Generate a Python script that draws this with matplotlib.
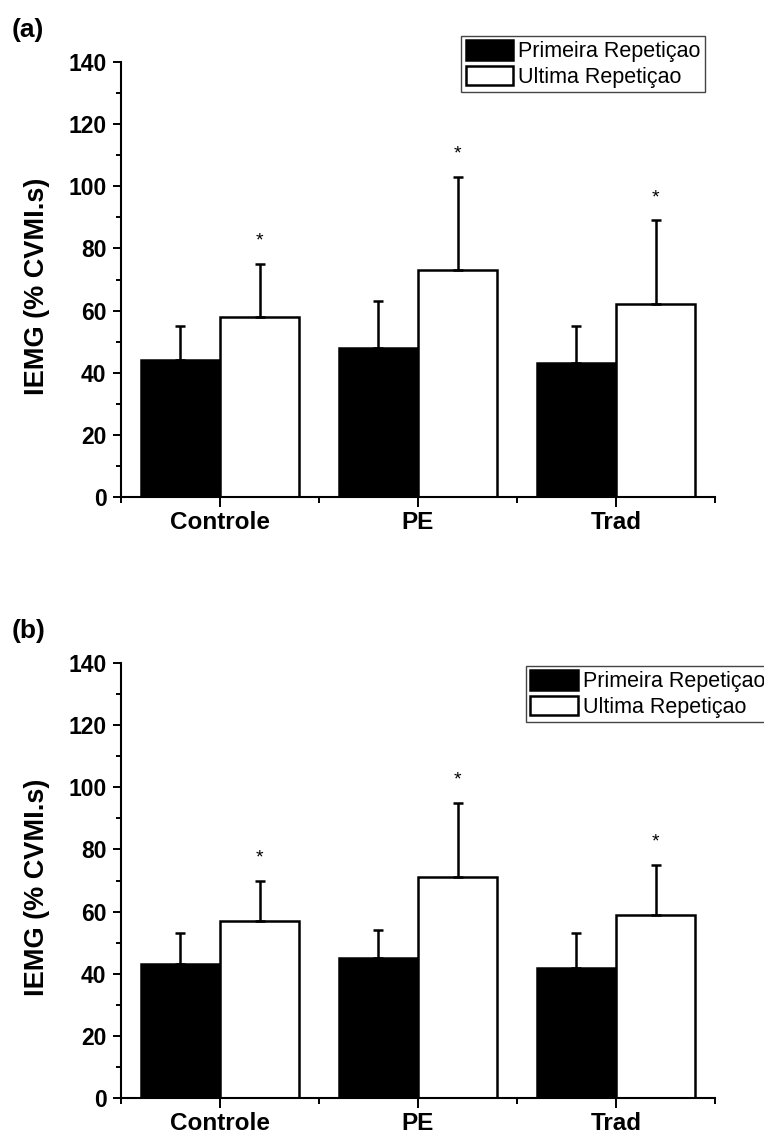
import numpy as np
import matplotlib
matplotlib.use('Agg')
import matplotlib.pyplot as plt
from matplotlib.ticker import MultipleLocator, FixedLocator

plt.rcParams['font.family'] = ['Liberation Sans', 'DejaVu Sans']

# data
groups = ['Controle', 'PE', 'Trad']
series_names = ['Primeira Repetiçao', 'Ultima Repetiçao']

# panel (a)
a_first = [44, 48, 43]
a_first_sd = [11, 15, 12]
a_last = [58, 73, 62]
a_last_sd = [17, 30, 27]

# panel (b)
b_first = [43, 45, 42]
b_first_sd = [10, 9, 11]
b_last = [57, 71, 59]
b_last_sd = [13, 24, 16]

W, H = 764, 1135
fig = plt.figure(figsize=(W / 100, H / 100), dpi=100)


def draw_panel(rect, first, first_sd, last, last_sd, letter, leg_loc, leg_anchor):
    ax = fig.add_axes(rect)
    x = np.arange(1, len(groups) + 1)
    bw = 0.4
    b1 = ax.bar(x - bw / 2, first, bw, color='black', edgecolor='black',
                linewidth=1.8, label=series_names[0], zorder=2)
    b2 = ax.bar(x + bw / 2, last, bw, color='white', edgecolor='black',
                linewidth=1.8, label=series_names[1], zorder=2)

    for xs, vals, sd in [(x - bw / 2, first, first_sd), (x + bw / 2, last, last_sd)]:
        ax.errorbar(xs, vals, yerr=[np.zeros(len(sd)), sd], fmt='none',
                    ecolor='black', elinewidth=1.8, capsize=3.6, capthick=1.8,
                    zorder=3)

    # significance marks above the second series
    for xi, v, s in zip(x + bw / 2, last, last_sd):
        ax.annotate('*', (xi, v + s), xytext=(0, 13), textcoords='offset points',
                    ha='center', va='baseline', fontsize=14)

    ax.set_xlim(0.5, 3.5)
    ax.set_ylim(0, 140)
    ax.set_xticks(x)
    ax.set_xticklabels(groups, fontsize=17.5, fontweight='bold')
    ax.xaxis.set_minor_locator(FixedLocator([0.5, 1.5, 2.5, 3.5]))
    ax.yaxis.set_major_locator(MultipleLocator(20))
    ax.yaxis.set_minor_locator(MultipleLocator(10))
    for lab in ax.get_yticklabels():
        lab.set_fontweight('bold')
        lab.set_fontsize(16.5)

    for side in ['top', 'right']:
        ax.spines[side].set_visible(False)
    for side in ['left', 'bottom']:
        ax.spines[side].set_linewidth(1.5)

    ax.tick_params(axis='y', which='major', length=5.5, width=1.4, pad=5)
    ax.tick_params(axis='y', which='minor', length=3.5, width=1.4)
    ax.tick_params(axis='x', which='major', length=7, width=1.4, pad=3)
    ax.tick_params(axis='x', which='minor', length=4.5, width=1.4)

    ax.set_ylabel('IEMG (% CVMI.s)', fontsize=19.5, fontweight='bold')
    ax.yaxis.set_label_coords(-0.12, 0.485)

    leg = ax.legend(handles=[b1, b2], loc=leg_loc, bbox_to_anchor=leg_anchor,
                    bbox_transform=fig.transFigure, fancybox=False,
                    edgecolor='#444444', framealpha=1, fontsize=15.5,
                    handlelength=2.2, handleheight=1.0, handletextpad=0.25,
                    labelspacing=0.15, borderpad=0.2, borderaxespad=0)
    leg.get_frame().set_linewidth(1.0)

    top = rect[1] + rect[3]
    fig.text(12 / W, top + 32 / H, letter, fontsize=19, fontweight='bold',
             ha='left', va='center')
    return ax


rect_a = [121 / W, 1 - 497 / H, 594 / W, 435 / H]
rect_b = [121 / W, 1 - 1098 / H, 594 / W, 435 / H]

draw_panel(rect_a, a_first, a_first_sd, a_last, a_last_sd, '(a)',
           'upper right', (705 / W, 1 - 36 / H))
draw_panel(rect_b, b_first, b_first_sd, b_last, b_last_sd, '(b)',
           'upper left', (526 / W, 1 - 666 / H))

fig.savefig('out.png', dpi=100)
